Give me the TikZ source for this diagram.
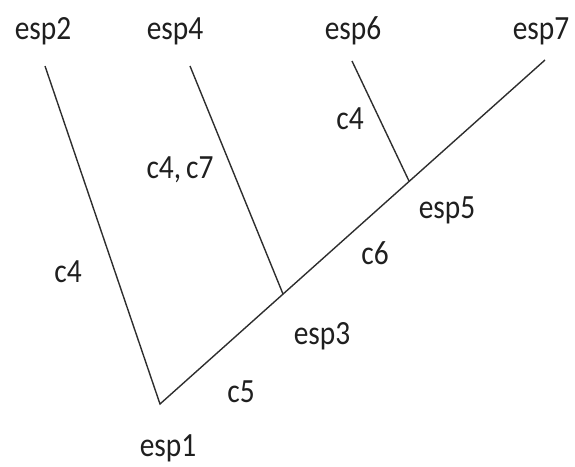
\documentclass[tikz,border=0pt]{standalone}
\usepackage{fontspec}
\setmainfont{Carlito}
\usetikzlibrary{positioning}
\newcommand{\tallfont}[1]{\scalebox{0.98}[1.13]{#1}}

\begin{document}
\begin{tikzpicture}[x=1pt,y=-1pt,
  taxon/.style={font=\fontsize{30}{34}\selectfont,inner sep=0pt,text=black!88},
  trait/.style={font=\fontsize{30}{34}\selectfont,inner sep=0pt,text=black!88},
  branch/.style={line width=1.4pt,draw=black!82}
]
\useasboundingbox (0,0) rectangle (575,466);

%% Branch points and tips
\coordinate (root) at (160,404);
\coordinate (n3)   at (283,294);
\coordinate (n5)   at (409,181);
\coordinate (t2)   at (45,66);
\coordinate (t4)   at (190,66);
\coordinate (t6)   at (352,61);
\coordinate (t7)   at (545,60);

%% Species labels
\node[taxon] (esp1) at (168,448) {\tallfont{esp1}};
\node[taxon] (esp2) at (43,31)   {\tallfont{esp2}};
\node[taxon] (esp3) at (322,336) {\tallfont{esp3}};
\node[taxon] (esp4) at (175,31)  {\tallfont{esp4}};
\node[taxon] (esp5) at (447,210) {\tallfont{esp5}};
\node[taxon] (esp6) at (353,31)  {\tallfont{esp6}};
\node[taxon] (esp7) at (541,31)  {\tallfont{esp7}};

%% Branches
\draw[branch] (t2) -- (root) -- (t7);
\draw[branch] (t4) -- (n3);
\draw[branch] (t6) -- (n5);

%% Character labels
\node[trait] (c4a) at (68,272)  {\tallfont{c4}};
\node[trait] (c47) at (180,170) {\tallfont{c4,\,c7}};
\node[trait] (c4b) at (350,119) {\tallfont{c4}};
\node[trait] (c5)  at (241,392) {\tallfont{c5}};
\node[trait] (c6)  at (375,253) {\tallfont{c6}};
\end{tikzpicture}
\end{document}
